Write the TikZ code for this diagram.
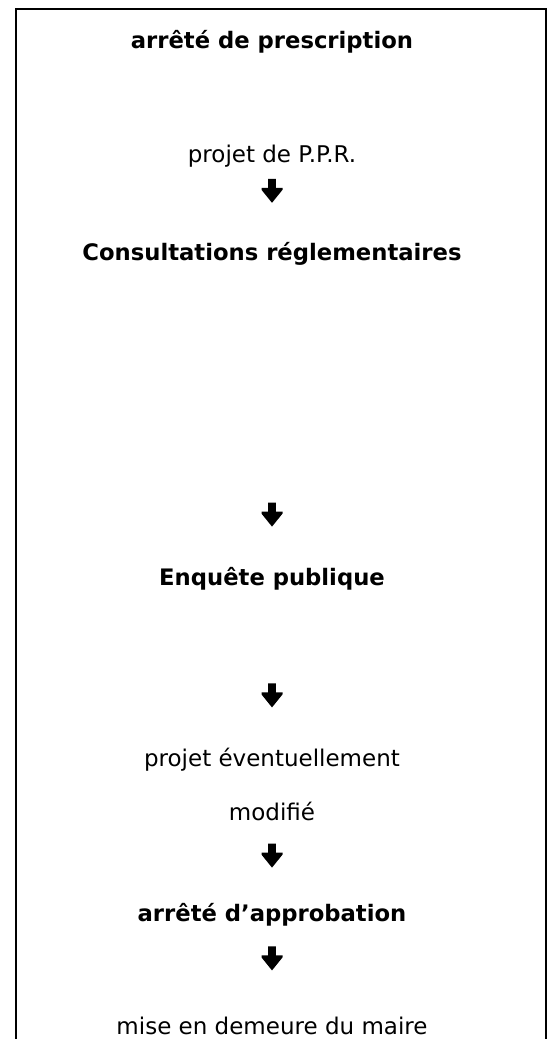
\documentclass[tikz,border=0pt]{standalone}
\usepackage{fontspec}
\setmainfont{DejaVu Sans}
\usepackage{tikz}
\usetikzlibrary{positioning}
\tikzset{
    etape/.style={inner sep=0pt, text height=17pt, text depth=5pt, font=\fontsize{23}{27}\selectfont},
    etapeForte/.style={etape, font=\fontsize{22.7}{27}\selectfont\bfseries},
    fleche/.style={minimum width=23pt, minimum height=24pt, inner sep=0pt,
        path picture={\fill[shift={(path picture bounding box.center)}, x=1pt, y=1pt]
            (-3.8,12) -- (3.8,12) -- (3.8,3) -- (10.5,3) -- (10.5,1) -- (0,-12)
            -- (-10.5,1) -- (-10.5,3) -- (-3.8,3) -- cycle;}},
    cadre/.style={draw=black, line width=2pt}
}
\begin{document}
\begin{tikzpicture}[x=1pt, y=-1pt]
        \useasboundingbox (0,0) rectangle (552,1039);
        % Frame
        \draw[cadre] (16,1045) -- (16,9) -- (546,9) -- (546,1045);

        % Steps
        \node[etapeForte, anchor=base] (Prescription) at (272,48) {arrêté de prescription};
        \node[etape, below=92pt of Prescription] (Projet) {projet de P.P.R.};
        \node[fleche, below=11pt of Projet] (F1) {};
        \node[etapeForte, below=40pt of F1] (Consult) {Consultations réglementaires};
        \node[fleche, below=237pt of Consult] (F2) {};
        \node[etapeForte, below=41pt of F2] (Enquete) {Enquête publique};
        \node[fleche, below=93pt of Enquete] (F3) {};
        \node[etape, below=42pt of F3] (Modif1) {projet éventuellement};
        \node[etape, below=31pt of Modif1] (Modif2) {modifié};
        \node[fleche, below=18pt of Modif2] (F4) {};
        \node[etapeForte, below=36pt of F4] (Approb) {arrêté d’approbation};
        \node[fleche, below=20pt of Approb] (F5) {};
        \node[etape, below=47pt of F5] (Maire) {mise en demeure du maire};

    \end{tikzpicture}
\end{document}
